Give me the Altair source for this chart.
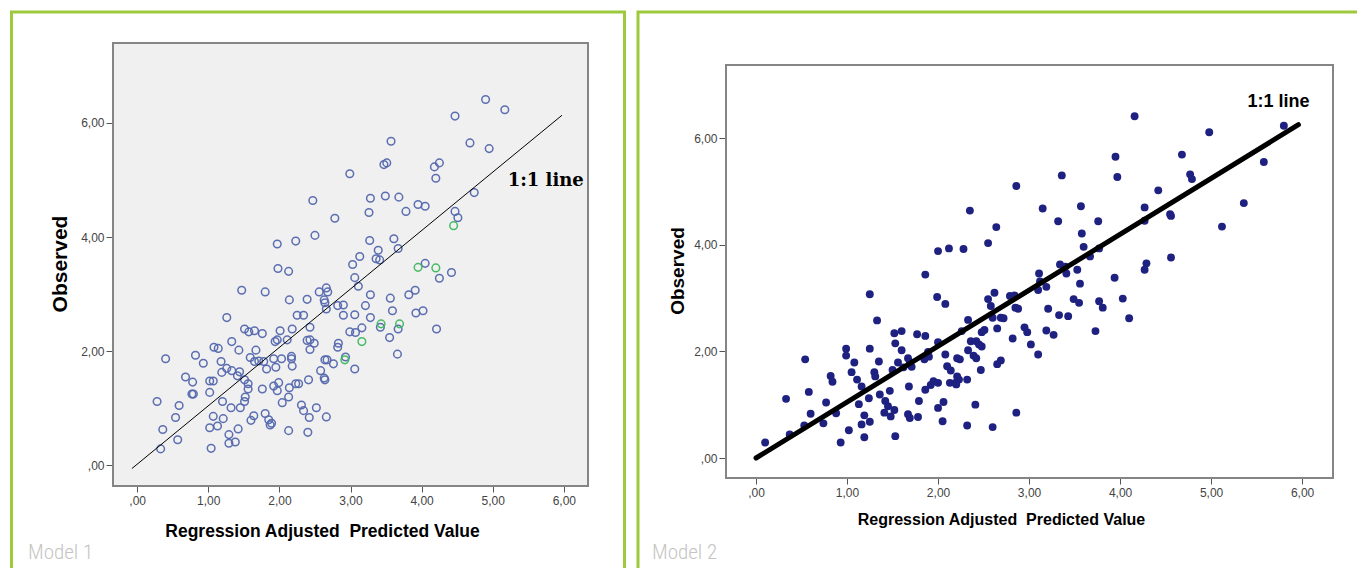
import altair as alt
import pandas as pd

# ---------------- data ----------------
# Model 1 : blue hollow circles
pred1_blue = [4.90, 5.17, 4.47, 3.57, 4.68, 4.95, 3.47, 3.51, 4.25, 4.18, 2.99, 4.20, 4.74, 2.47, 3.28, 3.49, 3.68, 3.26, 3.78, 3.95,
              4.05, 4.47, 4.51, 2.78, 2.50, 1.97, 2.23, 3.27, 3.61, 3.67, 3.39, 3.36, 3.41, 3.13, 3.03, 4.05, 4.42, 4.25, 3.06, 1.98,
              2.13, 3.11, 1.47, 1.80, 2.66, 2.56, 2.68, 2.63, 2.64, 3.28, 3.82, 3.91, 2.39, 2.14, 2.66, 2.82, 2.90, 3.21, 3.56, 3.59,
              3.92, 4.02, 1.26, 2.25, 2.34, 2.90, 3.06, 3.28, 2.43, 3.16, 3.42, 3.67, 4.21, 2.99, 3.07, 3.55, 1.51, 1.57, 1.65, 1.76,
              2.01, 2.18, 1.94, 1.97, 2.11, 2.39, 2.43, 2.49, 2.83, 2.82, 1.33, 1.43, 1.67, 2.43, 0.40, 0.82, 0.93, 1.08, 1.14, 1.18,
              1.59, 1.65, 1.71, 1.92, 2.03, 2.17, 2.17, 2.18, 1.78, 1.82, 1.95, 2.64, 2.67, 2.76, 2.93, 3.06, 3.66, 1.19, 1.26, 1.33,
              1.44, 1.41, 1.51, 2.58, 2.63, 2.64, 2.41, 0.68, 0.78, 1.02, 1.07, 1.56, 1.56, 1.76, 1.99, 1.92, 1.97, 2.23, 2.27, 2.14,
              0.77, 0.79, 1.02, 1.52, 2.13, 1.51, 0.28, 0.59, 1.20, 1.45, 1.32, 2.04, 2.31, 2.34, 2.52, 1.64, 1.80, 2.42, 2.66, 0.54,
              1.07, 1.21, 1.60, 1.85, 1.89, 1.87, 1.02, 1.13, 1.42, 0.36, 2.13, 2.40, 1.29, 0.57, 1.29, 1.38, 0.33, 1.04]
obs1_blue = [6.41, 6.23, 6.12, 5.68, 5.65, 5.55, 5.27, 5.30, 5.30, 5.23, 5.11, 5.03, 4.78, 4.64, 4.68, 4.72, 4.70, 4.43, 4.45, 4.57,
             4.54, 4.45, 4.34, 4.33, 4.03, 3.88, 3.93, 3.94, 3.97, 3.80, 3.77, 3.62, 3.60, 3.66, 3.52, 3.54, 3.38, 3.28, 3.29, 3.45,
             3.40, 3.14, 3.07, 3.04, 3.11, 3.04, 3.04, 2.90, 2.85, 2.99, 2.99, 3.07, 2.91, 2.90, 2.74, 2.80, 2.81, 2.80, 2.93, 2.71,
             2.67, 2.71, 2.59, 2.63, 2.63, 2.63, 2.64, 2.59, 2.42, 2.41, 2.42, 2.39, 2.39, 2.34, 2.33, 2.24, 2.39, 2.34, 2.36, 2.31,
             2.36, 2.39, 2.17, 2.20, 2.20, 2.19, 2.20, 2.14, 2.14, 2.07, 2.17, 2.02, 2.02, 2.03, 1.87, 1.93, 1.79, 2.07, 2.05, 1.82,
             1.89, 1.82, 1.83, 1.87, 1.87, 1.91, 1.87, 1.74, 1.82, 1.69, 1.72, 1.85, 1.85, 1.78, 1.90, 1.69, 1.95, 1.63, 1.70, 1.66,
             1.64, 1.57, 1.50, 1.66, 1.53, 1.50, 1.50, 1.55, 1.46, 1.48, 1.48, 1.43, 1.34, 1.34, 1.45, 1.39, 1.31, 1.43, 1.43, 1.36,
             1.25, 1.25, 1.28, 1.20, 1.20, 1.12, 1.12, 1.05, 1.12, 1.01, 1.01, 1.10, 1.06, 0.96, 1.01, 0.87, 0.91, 0.84, 0.85, 0.84,
             0.86, 0.82, 0.79, 0.80, 0.74, 0.71, 0.66, 0.69, 0.64, 0.63, 0.61, 0.58, 0.54, 0.45, 0.39, 0.41, 0.29, 0.30]
# Model 1 : green hollow circles
pred1_green = [4.45, 3.95, 4.20, 3.43, 3.69, 3.16, 2.92]
obs1_green = [4.20, 3.47, 3.46, 2.48, 2.48, 2.17, 1.85]

# Model 2 : navy filled circles
pred2 = [4.16, 4.98, 5.80, 5.58, 3.95, 4.68, 3.97, 3.36, 4.77, 4.79, 2.86, 4.42, 5.36, 2.35, 3.15, 3.57, 4.27, 3.32, 3.76, 4.27,
         4.55, 4.56, 2.64, 5.12, 3.58, 2.55, 2.00, 2.12, 2.28, 3.60, 3.77, 3.67, 4.56, 3.34, 3.40, 3.53, 3.41, 4.29, 4.27, 1.86,
         3.11, 3.94, 3.12, 3.10, 3.56, 3.19, 1.25, 1.99, 2.62, 2.79, 2.84, 2.55, 3.49, 3.55, 3.77, 4.03, 2.08, 2.58, 2.85, 2.88,
         3.21, 3.81, 1.33, 2.33, 2.69, 2.72, 2.60, 3.33, 3.43, 4.10, 2.51, 2.65, 2.48, 2.95, 2.98, 3.19, 3.27, 3.73, 1.52, 1.60,
         1.77, 1.86, 2.26, 1.53, 1.60, 2.00, 2.36, 2.42, 2.45, 2.82, 3.02, 3.10, 0.99, 0.99, 1.25, 1.08, 1.35, 1.67, 1.69, 1.89,
         1.90, 1.85, 2.08, 2.21, 2.24, 2.39, 2.42, 2.33, 2.48, 2.69, 2.65, 0.54, 1.56, 1.62, 1.71, 2.10, 2.14, 2.47, 1.05, 1.30,
         1.31, 1.50, 1.11, 0.82, 0.84, 2.21, 2.23, 2.32, 2.13, 2.19, 2.20, 1.95, 2.00, 1.92, 1.86, 1.16, 1.68, 0.58, 1.36, 1.47,
         1.24, 0.33, 0.77, 1.13, 1.42, 1.45, 1.79, 2.06, 2.41, 2.00, 1.41, 1.52, 1.67, 1.69, 1.78, 1.48, 0.60, 0.88, 1.19, 2.86,
         0.53, 0.74, 1.16, 1.25, 2.05, 2.32, 2.60, 0.37, 1.02, 1.19, 1.53, 0.10, 0.93]
obs2 = [6.41, 6.11, 6.23, 5.55, 5.65, 5.69, 5.27, 5.30, 5.32, 5.23, 5.10, 5.02, 4.78, 4.64, 4.68, 4.72, 4.70, 4.44, 4.44, 4.45,
        4.57, 4.54, 4.33, 4.34, 4.21, 4.03, 3.88, 3.93, 3.92, 3.96, 3.93, 3.78, 3.76, 3.63, 3.59, 3.53, 3.46, 3.65, 3.53, 3.44,
        3.46, 3.38, 3.31, 3.15, 3.27, 3.21, 3.07, 3.02, 3.10, 3.04, 3.05, 2.98, 2.98, 2.91, 2.94, 2.99, 2.89, 2.85, 2.82, 2.80,
        2.80, 2.82, 2.58, 2.59, 2.63, 2.62, 2.63, 2.68, 2.66, 2.62, 2.40, 2.43, 2.36, 2.45, 2.36, 2.39, 2.31, 2.38, 2.34, 2.38,
        2.32, 2.29, 2.38, 2.15, 2.02, 2.17, 2.19, 2.19, 2.13, 2.24, 2.13, 1.94, 2.05, 1.92, 2.05, 1.79, 1.81, 1.87, 1.80, 1.99,
        1.90, 1.85, 1.94, 1.87, 1.85, 1.92, 1.87, 2.02, 2.09, 1.83, 1.76, 1.85, 1.79, 1.70, 1.71, 1.72, 1.64, 1.65, 1.61, 1.61,
        1.53, 1.65, 1.47, 1.54, 1.43, 1.53, 1.47, 1.47, 1.41, 1.41, 1.38, 1.44, 1.41, 1.37, 1.28, 1.34, 1.34, 1.24, 1.19, 1.26,
        1.12, 1.11, 1.04, 1.01, 1.07, 0.97, 1.07, 1.05, 1.00, 0.94, 0.85, 0.90, 0.82, 0.75, 0.77, 0.78, 0.83, 0.84, 0.80, 0.85,
        0.61, 0.65, 0.63, 0.68, 0.69, 0.61, 0.58, 0.44, 0.52, 0.39, 0.41, 0.29, 0.29]

# 1:1 reference lines (as drawn in each panel)
line1_x = [-0.07, 5.97]
line1_y = [-0.05, 6.13]
line2_x = [0.00, 5.96]
line2_y = [0.00, 6.25]

x_ticks = [0, 1, 2, 3, 4, 5, 6]
y_ticks = [0, 2, 4, 6]
x_title = "Regression Adjusted\u00a0 Predicted Value"
y_title = "Observed"
line_label = "1:1 line"
panel_labels = ["Model 1", "Model 2"]

# ---------------- scales / layout ----------------
W, H = 1357, 568
x_dom1, y_dom1 = [-0.34, 6.34], [-0.36, 7.40]
x_dom2, y_dom2 = [-0.33, 6.34], [-0.375, 7.37]
x_rng1, y_rng1 = [113, 588], [486, 43]
x_rng2, y_rng2 = [726, 1333], [478, 65]

LABEL_EXPR = "datum.value == 0 ? ',00' : replace(format(datum.value, '.2f'), '.', ',')"
FONT = "Liberation Sans, Arial, sans-serif"
CAP_FONT = "Roboto Condensed, Liberation Sans Narrow, Roboto, sans-serif"


def axes(x_rng, y_rng, title_x, title_y_x, xt_size, yt_size, xt_y):
    ax = alt.Axis(orient="bottom", offset=-(H - y_rng[0]), values=x_ticks, labelExpr=LABEL_EXPR,
                  grid=False, domain=False, tickColor="#555555", tickSize=6, tickWidth=1,
                  labelColor="#444444", labelFont=FONT, labelFontSize=12, labelPadding=3,
                  title=x_title, titleFont=FONT, titleFontSize=xt_size, titleFontWeight="bold",
                  titleColor="#000000", titleX=title_x, titleY=xt_y, titleAlign="center",
                  titleBaseline="middle")
    ay = alt.Axis(orient="left", offset=-x_rng[0], values=y_ticks, labelExpr=LABEL_EXPR,
                  grid=False, domain=False, tickColor="#555555", tickSize=7, tickWidth=1,
                  labelColor="#444444", labelFont=FONT, labelFontSize=12, labelPadding=2,
                  title=y_title, titleFont=FONT, titleFontSize=yt_size, titleFontWeight="bold",
                  titleColor="#000000", titleX=title_y_x, titleY=(y_rng[0] + y_rng[1]) / 2 - 1,
                  titleAngle=270, titleAlign="center", titleBaseline="middle")
    return ax, ay


def panel(x_dom, y_dom, x_rng, y_rng, ax, ay, bg, pts_layers, lx, ly, line_w, lab_x, lab_y, lab_font, lab_size):
    sx = alt.Scale(domain=x_dom, range=x_rng, zero=False, nice=False)
    sy = alt.Scale(domain=y_dom, range=y_rng, zero=False, nice=False)

    def X(f):
        return alt.X(f, type="quantitative", scale=sx, axis=ax)

    def Y(f):
        return alt.Y(f, type="quantitative", scale=sy, axis=ay)

    frame_df = pd.DataFrame({"x0": [x_dom[0]], "x1": [x_dom[1]], "y0": [y_dom[0]], "y1": [y_dom[1]]})
    frame = alt.Chart(frame_df).mark_rect(fill=bg, stroke="#858585", strokeWidth=2).encode(
        x=X("x0"), x2="x1", y=Y("y0"), y2="y1")

    layers = [frame]
    for df, mk in pts_layers:
        layers.append(alt.Chart(df).mark_point(**mk).encode(x=X("pred"), y=Y("obs")))

    line_df = pd.DataFrame({"pred": lx, "obs": ly})
    line = alt.Chart(line_df).mark_line(color="#000000", strokeWidth=line_w, strokeCap="round").encode(
        x=X("pred"), y=Y("obs"))
    layers.append(line)

    txt_df = pd.DataFrame({"pred": [lab_x], "obs": [lab_y], "t": [line_label]})
    txt = alt.Chart(txt_df).mark_text(align="left", baseline="alphabetic", font=lab_font, fontSize=lab_size,
                                      fontWeight="bold", color="#000000").encode(
        x=X("pred"), y=Y("obs"), text="t:N")
    layers.append(txt)
    return alt.layer(*layers)


ax1, ay1 = axes(x_rng1, y_rng1, 322, 60 - x_rng1[0], 17.5, 21, 531 - y_rng1[0])
ax2, ay2 = axes(x_rng2, y_rng2, 1001, 677 - x_rng2[0], 16, 19, 519 - y_rng2[0])

df1b = pd.DataFrame({"pred": pred1_blue, "obs": obs1_blue})
df1g = pd.DataFrame({"pred": pred1_green, "obs": obs1_green})
df2 = pd.DataFrame({"pred": pred2, "obs": obs2})

p1 = panel(x_dom1, y_dom1, x_rng1, y_rng1, ax1, ay1, "#F0F0F0",
           [(df1b, dict(shape="circle", filled=False, color="#5468AE", size=58, strokeWidth=1.5, opacity=0.95)),
            (df1g, dict(shape="circle", filled=False, color="#3DB95E", size=58, strokeWidth=1.5, opacity=0.95))],
           line1_x, line1_y, 1, 5.21, 4.90, "DejaVu Serif, serif", 18)

p2 = panel(x_dom2, y_dom2, x_rng2, y_rng2, ax2, ay2, "#FFFFFF",
           [(df2, dict(shape="circle", filled=True, color="#1E2180", size=62, opacity=1))],
           line2_x, line2_y, 5, 5.40, 6.58, FONT, 18)

# decorative green boxes and panel captions
one = pd.DataFrame({"a": [0]})
box1 = alt.Chart(one).mark_rect(fillOpacity=0, stroke="#9DCA3C", strokeWidth=3).encode(
    x=alt.value(11.5), x2=alt.value(624.5), y=alt.value(12), y2=alt.value(620))
box2 = alt.Chart(one).mark_rect(fillOpacity=0, stroke="#9DCA3C", strokeWidth=3).encode(
    x=alt.value(638), x2=alt.value(1420), y=alt.value(12), y2=alt.value(620))
cap_df = pd.DataFrame({"t": panel_labels})
cap1 = alt.Chart(cap_df).transform_filter(alt.datum.t == panel_labels[0]).mark_text(
    align="left", baseline="middle", font=CAP_FONT, fontSize=21, fontWeight=300,
    color="#C4C4C4").encode(x=alt.value(28), y=alt.value(553), text="t:N")
cap2 = alt.Chart(cap_df).transform_filter(alt.datum.t == panel_labels[1]).mark_text(
    align="left", baseline="middle", font=CAP_FONT, fontSize=21, fontWeight=300,
    color="#C4C4C4").encode(x=alt.value(652), y=alt.value(553), text="t:N")

chart = alt.layer(p1, p2, box1, box2, cap1, cap2).resolve_scale(
    x="independent", y="independent"
).properties(
    width=W, height=H, autosize=alt.AutoSizeParams(type="none"), padding=0, background="#FFFFFF"
).configure_view(stroke=None)

chart.save("out.html", embed_options={"renderer": "svg", "actions": False})
